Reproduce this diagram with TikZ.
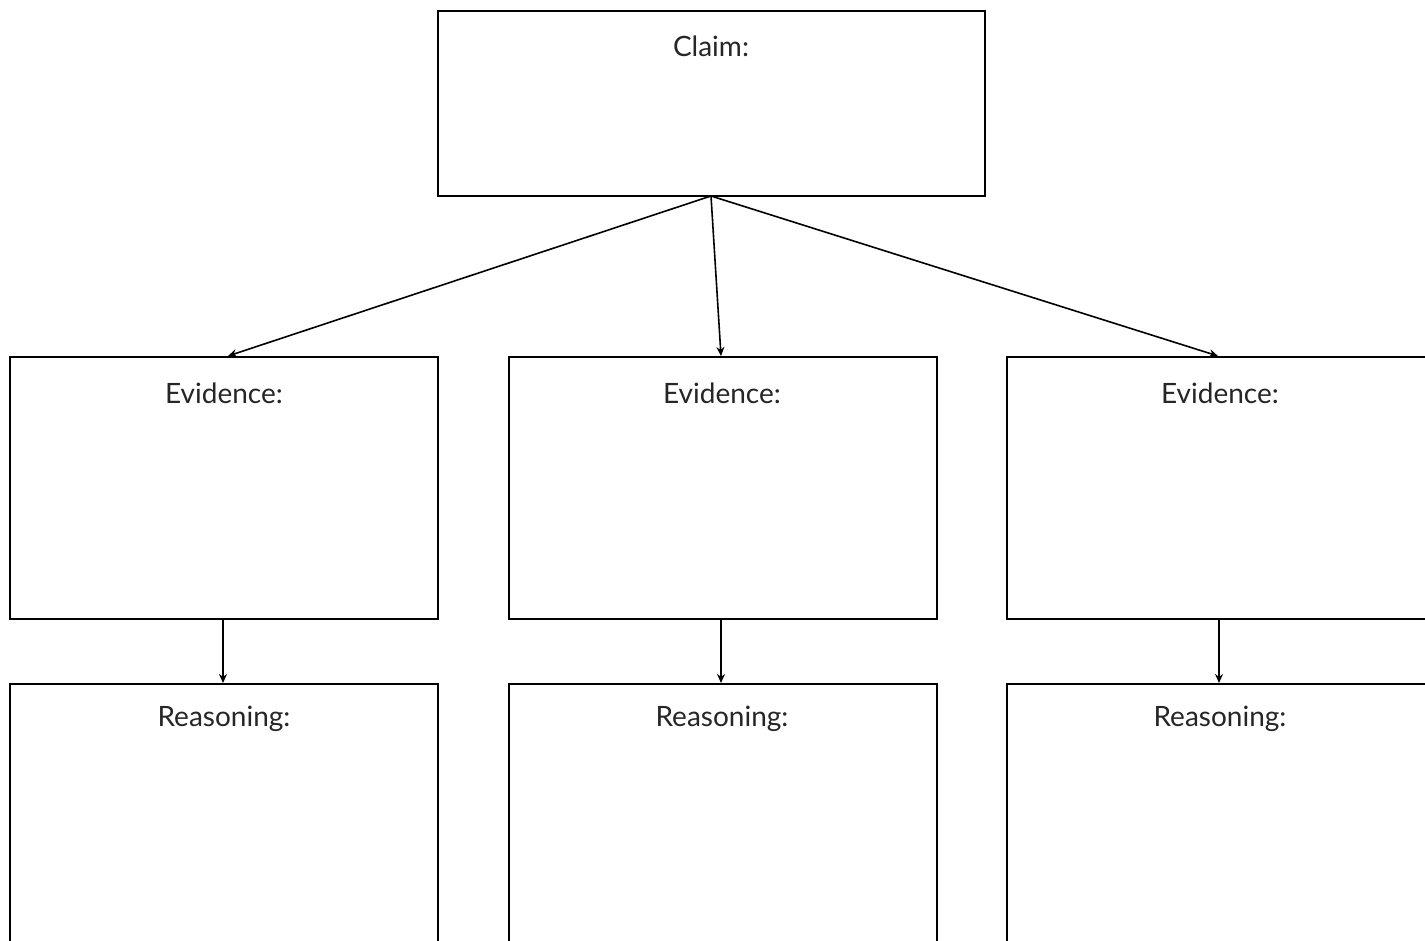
\documentclass[tikz,border=0pt]{standalone}
\usepackage{fontspec}
\setmainfont{Lato}
\usetikzlibrary{arrows.meta}
\begin{document}
\begin{tikzpicture}[x=1pt,y=-1pt,
  box/.style={draw=black,line width=1.8pt,rectangle,inner sep=0pt,anchor=north west},
  lbl/.style={font=\fontsize{28}{33}\selectfont,text=black!85,anchor=center},
  conn/.style={draw=black,line width=1.6pt,-{Stealth[length=9pt,width=8pt]}}]
\useasboundingbox (0,0) rectangle (1425,941);
\clip (0,0) rectangle (1425,941);
\fill[white] (0,0) rectangle (1425,941);
\node[box,minimum width=547pt,minimum height=185pt] (claim) at (437,10) {};
\node[box,minimum width=428pt,minimum height=262pt] (e1) at (9,356) {};
\node[box,minimum width=428pt,minimum height=262pt] (e2) at (508,356) {};
\node[box,minimum width=428pt,minimum height=262pt] (e3) at (1006,356) {};
\node[box,minimum width=428pt,minimum height=290pt] (r1) at (9,683) {};
\node[box,minimum width=428pt,minimum height=290pt] (r2) at (508,683) {};
\node[box,minimum width=428pt,minimum height=290pt] (r3) at (1006,683) {};
\node[lbl] (tc) at (711,46) {Claim:};
\node[lbl] (te1) at (224,393) {Evidence:};
\node[lbl] (te2) at (722,393) {Evidence:};
\node[lbl] (te3) at (1220,393) {Evidence:};
\node[lbl] (tr1) at (224,719) {Reasoning:};
\node[lbl] (tr2) at (722,719) {Reasoning:};
\node[lbl] (tr3) at (1220,719) {Reasoning:};
\coordinate (cs) at (711,196);
\draw[conn] (cs) -- (228,356);
\draw[conn] (cs) -- (721,356);
\draw[conn] (cs) -- (1218,356);
\draw[conn] (e1.south -| 223,0) -- (r1.north -| 223,0);
\draw[conn] (e2.south -| 721,0) -- (r2.north -| 721,0);
\draw[conn] (e3.south -| 1219,0) -- (r3.north -| 1219,0);
\end{tikzpicture}
\end{document}
